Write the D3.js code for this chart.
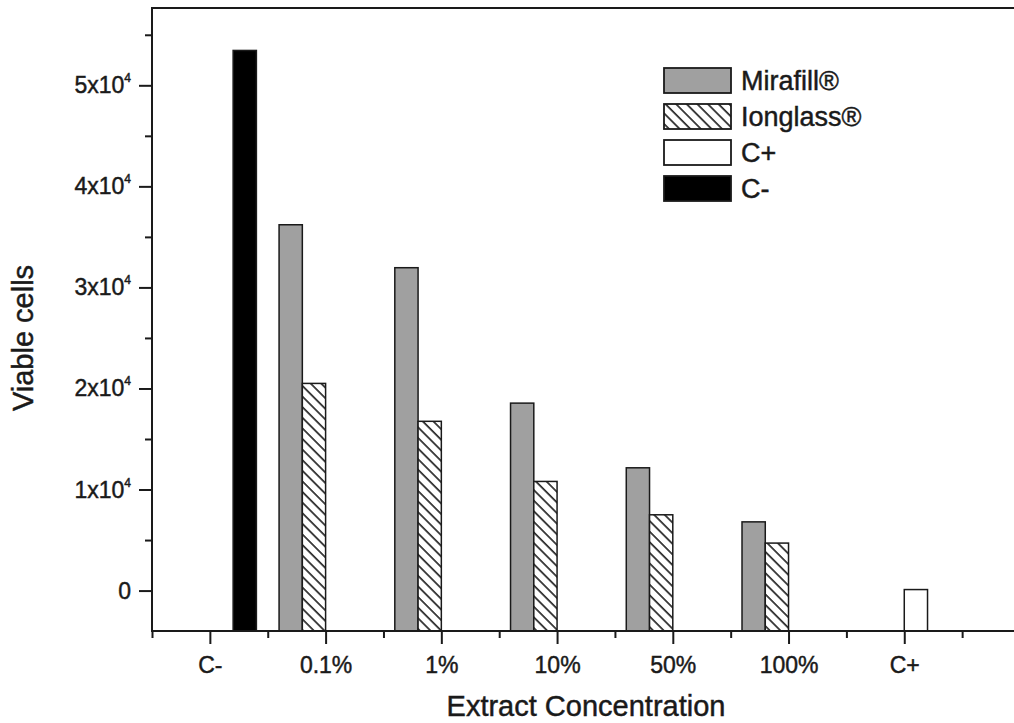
<!DOCTYPE html>
<html>
<head>
<meta charset="utf-8">
<script src="https://cdn.jsdelivr.net/npm/d3@7"></script>
<style>
  body { margin: 0; background: #fff; }
  svg { display: block; }
  text { stroke: #1a1a1a; stroke-width: 0.45px; }
</style>
</head>
<body>
<div id="container"></div>
<script>
let width = 1014
let height = 723
let fontFamily = "'Liberation Sans', Arial, Helvetica, sans-serif"
let ink = '#1a1a1a'

// categories on the x axis
let categories = ['C-', '0.1%', '1%', '10%', '50%', '100%', 'C+']
// series, in the order they sit inside a group
let seriesNames = ['Mirafill®', 'Ionglass®', 'C+', 'C-']
let mirafill = [null, 36200, 31950, 18550, 12150, 6800, null]
let ionglass = [null, 20500, 16750, 10800, 7500, 4700, null]
let cPlus = [null, null, null, null, null, null, 100]
let cMinus = [53450, null, null, null, null, null, null]
let yMajorTicks = [0, 10000, 20000, 30000, 40000, 50000]
let yMinorTicks = [5000, 15000, 25000, 35000, 45000, 55000]

let seriesValues = [mirafill, ionglass, cPlus, cMinus]
let fills = ['#a0a0a0', 'url(#hatch)', '#ffffff', '#000000']

let svg = d3.select('#container')
    .append('svg')
    .attr('width', width)
    .attr('height', height)
    .style('font-family', fontFamily)

// hatch used by Ionglass
svg.append('defs')
    .append('pattern')
    .attr('id', 'hatch')
    .attr('patternUnits', 'userSpaceOnUse')
    .attr('width', 7.5)
    .attr('height', 7.5)
    .attr('patternTransform', 'rotate(-45)')
    .call(p => {
        p.append('rect').attr('width', 7.5).attr('height', 7.5).attr('fill', '#fff')
        p.append('line')
            .attr('x1', 1).attr('y1', 0)
            .attr('x2', 1).attr('y2', 7.5)
            .attr('stroke', ink)
            .attr('stroke-width', 1.6)
    })

let plot = { left: 152, right: 1020, top: 8, bottom: 631 }

let x = d3.scaleLinear()
    .domain([-0.5, 7.0])
    .range([plot.left, plot.right])
let step = x(1) - x(0)
let barW = step * 0.201

let y = d3.scaleLinear()
    .domain([-4000, 57650])
    .range([plot.bottom, plot.top])

// bars: every bar starts at the bottom of the frame
let bars = []
seriesValues.forEach((vals, k) => {
    vals.forEach((v, i) => {
        if (v === null) return
        bars.push({ k: k, i: i, v: v })
    })
})

svg.append('g')
    .selectAll('rect')
    .data(bars)
    .join('rect')
    .attr('x', d => x(d.i) - 2 * barW + d.k * barW)
    .attr('y', d => y(d.v))
    .attr('width', barW)
    .attr('height', d => y(-4000) - y(d.v))
    .attr('fill', d => fills[d.k])
    .attr('stroke', ink)
    .attr('stroke-width', 1.5)

// frame
let frame = svg.append('g')
    .attr('stroke', ink)
    .attr('stroke-width', 2)
    .attr('fill', 'none')
frame.append('rect')
    .attr('x', plot.left)
    .attr('y', plot.top)
    .attr('width', plot.right - plot.left)
    .attr('height', plot.bottom - plot.top)

// y axis ticks
let yAxis = svg.append('g')
    .attr('transform', `translate(${plot.left},0)`)
    .call(d3.axisLeft(y).tickValues(yMajorTicks).tickSize(13).tickFormat(''))
yAxis.select('.domain').remove()
yAxis.selectAll('line').attr('stroke', ink).attr('stroke-width', 2)

let yMinor = svg.append('g')
    .attr('transform', `translate(${plot.left},0)`)
    .call(d3.axisLeft(y).tickValues(yMinorTicks).tickSize(7).tickFormat(''))
yMinor.select('.domain').remove()
yMinor.selectAll('line').attr('stroke', ink).attr('stroke-width', 2)

// y labels with superscript
let yLab = svg.append('g')
    .selectAll('text')
    .data(yMajorTicks)
    .join('text')
    .attr('x', 131)
    .attr('y', d => y(d) + 8)
    .attr('text-anchor', 'end')
    .attr('font-size', 23)
    .attr('fill', ink)
yLab.filter(d => d === 0).text('0')
yLab.filter(d => d !== 0).each(function (d) {
    let t = d3.select(this)
    t.append('tspan').text((d / 10000) + 'x10')
    t.append('tspan').text('4').attr('font-size', 12).attr('dy', -11)
})

// x axis ticks: majors at categories, minors at boundaries
let xAxis = svg.append('g')
    .attr('transform', `translate(0,${plot.bottom})`)
    .call(d3.axisBottom(x).tickValues(d3.range(categories.length)).tickSize(13)
        .tickFormat(i => categories[i]))
xAxis.select('.domain').remove()
xAxis.selectAll('line').attr('stroke', ink).attr('stroke-width', 2)
xAxis.selectAll('text')
    .attr('font-size', 23)
    .attr('fill', ink)
    .attr('font-family', fontFamily)
    .attr('y', 26)

let xMinor = svg.append('g')
    .attr('transform', `translate(0,${plot.bottom})`)
    .call(d3.axisBottom(x).tickValues(d3.range(-0.5, 7, 1)).tickSize(7).tickFormat(''))
xMinor.select('.domain').remove()
xMinor.selectAll('line').attr('stroke', ink).attr('stroke-width', 2)

// axis titles
svg.append('text')
    .attr('x', (plot.left + plot.right) / 2)
    .attr('y', 716)
    .attr('text-anchor', 'middle')
    .attr('font-size', 29)
    .attr('fill', ink)
    .text('Extract Concentration')

svg.append('text')
    .attr('transform', 'translate(33,338) rotate(-90)')
    .attr('text-anchor', 'middle')
    .attr('font-size', 29)
    .attr('fill', ink)
    .text('Viable cells')

// legend
let legend = svg.append('g')
    .attr('transform', 'translate(664,68)')
let item = legend.selectAll('g')
    .data(seriesNames)
    .join('g')
    .attr('transform', (d, i) => `translate(0,${i * 36})`)
item.append('rect')
    .attr('width', 67)
    .attr('height', 25)
    .attr('fill', (d, i) => fills[i])
    .attr('stroke', ink)
    .attr('stroke-width', 1.8)
item.append('text')
    .attr('x', 77)
    .attr('y', 22)
    .attr('font-size', 27)
    .attr('fill', ink)
    .text(d => d)
</script>
</body>
</html>
